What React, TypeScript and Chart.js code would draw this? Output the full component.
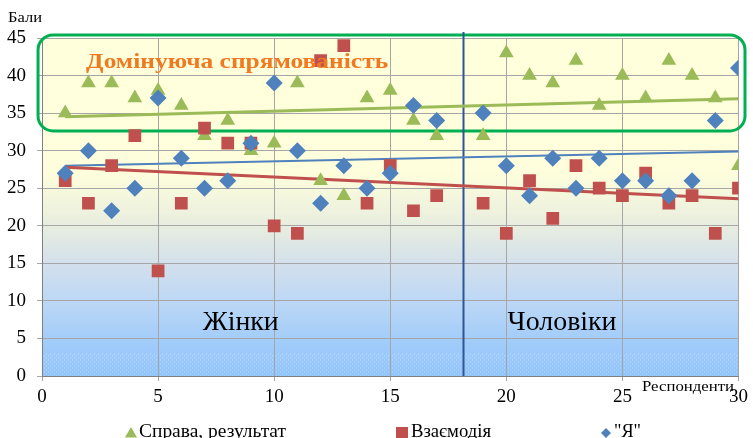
import React, { useEffect, useRef } from "react";
import { Chart, registerables } from "chart.js";

Chart.register(...registerables);

// ---- data ----
const respondents = [1, 2, 3, 4, 5, 6, 7, 8, 9, 10, 11, 12, 13, 14, 15, 16, 17, 19, 20, 21, 22, 23, 24, 25, 26, 27, 28, 29, 30];
const spravaValues = [35, 39, 39, 37, 38, 36, 32, 34, 30, 31, 39, 26, 24, 37, 38, 34, 32, 32, 43, 40, 39, 42, 36, 40, 37, 42, 40, 37, 28];
const vzaiemodiiaValues = [26, 23, 28, 32, 14, 23, 33, 31, 31, 20, 19, 42, 44, 23, 28, 22, 24, 23, 19, 26, 21, 28, 25, 24, 27, 23, 24, 19, 25];
const yaValues = [27, 30, 22, 25, 37, 29, 25, 26, 31, 39, 30, 23, 28, 25, 27, 36, 34, 35, 28, 24, 29, 25, 29, 26, 26, 24, 26, 34, 41];

// linear trend lines (end values)
const trendX = [1, 30];
const spravaTrend = [34.5, 36.9];
const vzaiemodiiaTrend = [27.8, 23.6];
const yaTrend = [28.0, 29.9];

const seriesLabels = ["Справа, результат", "Взаємодія", "\"Я\""];
const xAxisTitle = "Респонденти";
const yAxisTitle = "Бали";
const zoneLabel = "Домінуюча спрямованість";
const groupLabels = ["Жінки", "Чоловіки"];

const GREEN = "#9BBB59";
const RED = "#C0504D";
const BLUE = "#4F81BD";
const FONT = '"Liberation Serif", "DejaVu Serif", serif';

function trianglePath(ctx: CanvasRenderingContext2D, x: number, y: number, r: number) {
  ctx.beginPath();
  for (let k = 0; k < 3; k++) {
    const a = (k * 2 * Math.PI) / 3;
    const px = x + Math.sin(a) * r;
    const py = y - Math.cos(a) * r;
    if (k === 0) ctx.moveTo(px, py);
    else ctx.lineTo(px, py);
  }
  ctx.closePath();
}

// draw text stretched horizontally to a target width (the reference is slightly widened)
function fitText(ctx: CanvasRenderingContext2D, text: string, x: number, y: number, targetW: number, align: "left" | "center" | "right") {
  const w = ctx.measureText(text).width;
  const sx = w > 0 ? targetW / w : 1;
  ctx.save();
  ctx.textAlign = "left";
  let x0 = x;
  if (align === "center") x0 = x - targetW / 2;
  if (align === "right") x0 = x - targetW;
  ctx.translate(x0, y);
  ctx.scale(sx, 1);
  ctx.fillText(text, 0, 0);
  ctx.restore();
}

const backgroundPlugin = {
  id: "plotBackground",
  beforeDraw(chart: any) {
    const { ctx, chartArea } = chart;
    const { left, top, right, bottom } = chartArea;
    ctx.save();
    const g = ctx.createLinearGradient(0, top, 0, bottom);
    g.addColorStop(0, "#FFFFDC");
    g.addColorStop(0.4, "#FEFEDC");
    g.addColorStop(0.56, "#E7EDDF");
    g.addColorStop(0.67, "#D3E0EC");
    g.addColorStop(0.78, "#BCD7F5");
    g.addColorStop(0.89, "#A3CDF9");
    g.addColorStop(1, "#8FC3FB");
    ctx.fillStyle = g;
    ctx.fillRect(left, top, right - left, bottom - top);
    const yS = chart.scales.y;
    const dotTop = yS.getPixelForValue(3);
    ctx.fillStyle = "rgba(255,255,255,0.45)";
    let row = 0;
    for (let y = dotTop; y < bottom; y += 2, row++) {
      for (let x = left + (row % 2) * 2; x < right; x += 4) {
        ctx.fillRect(x, y, 1, 1);
      }
    }
    ctx.restore();
  },
};

const annotationPlugin = {
  id: "annotations",
  beforeDatasetsDraw(chart: any) {
    const { ctx } = chart;
    const xs = chart.scales.x;
    const ys = chart.scales.y;
    ctx.save();
    const l = xs.getPixelForValue(-0.17);
    const r = xs.getPixelForValue(30.28);
    const t = ys.getPixelForValue(45.4);
    const b = ys.getPixelForValue(32.63);
    const rad = 15;
    ctx.beginPath();
    ctx.moveTo(l + rad, t);
    ctx.lineTo(r - rad, t);
    ctx.arcTo(r, t, r, t + rad, rad);
    ctx.lineTo(r, b - rad);
    ctx.arcTo(r, b, r - rad, b, rad);
    ctx.lineTo(l + rad, b);
    ctx.arcTo(l, b, l, b - rad, rad);
    ctx.lineTo(l, t + rad);
    ctx.arcTo(l, t, l + rad, t, rad);
    ctx.closePath();
    ctx.strokeStyle = "#00B050";
    ctx.lineWidth = 3;
    ctx.stroke();
    const dx = Math.round(xs.getPixelForValue(18.15)) + 0.5;
    ctx.beginPath();
    ctx.moveTo(dx, ys.getPixelForValue(45.8));
    ctx.lineTo(dx, ys.getPixelForValue(0));
    ctx.strokeStyle = "#2F5597";
    ctx.lineWidth = 2;
    ctx.stroke();
    ctx.restore();
  },
  afterDatasetsDraw(chart: any) {
    const { ctx } = chart;
    const xs = chart.scales.x;
    const ys = chart.scales.y;
    ctx.save();
    ctx.textBaseline = "alphabetic";
    ctx.fillStyle = "#F07A22";
    ctx.font = `bold 22px ${FONT}`;
    fitText(ctx, zoneLabel, xs.getPixelForValue(1.9), ys.getPixelForValue(41.0), 302, "left");
    ctx.fillStyle = "#000";
    ctx.font = `28px ${FONT}`;
    fitText(ctx, groupLabels[0], xs.getPixelForValue(8.56), ys.getPixelForValue(6.1), 76, "center");
    fitText(ctx, groupLabels[1], xs.getPixelForValue(22.4), ys.getPixelForValue(6.1), 109, "center");
    ctx.restore();
  },
  afterDraw(chart: any) {
    const { ctx } = chart;
    ctx.save();
    ctx.fillStyle = "#000";
    ctx.textBaseline = "alphabetic";
    ctx.font = `15px ${FONT}`;
    fitText(ctx, yAxisTitle, 8, 22, 34, "left");
    ctx.font = `15px ${FONT}`;
    fitText(ctx, xAxisTitle, 734, 391, 92, "right");

    // legend
    const base = 437;
    ctx.font = `18px ${FONT}`;
    ctx.fillStyle = GREEN;
    trianglePath(ctx, 131, 434, 7);
    ctx.fill();
    ctx.fillStyle = "#000";
    fitText(ctx, seriesLabels[0], 139, base, 147, "left");

    ctx.fillStyle = RED;
    ctx.fillRect(396, 427, 12, 12);
    ctx.fillStyle = "#000";
    fitText(ctx, seriesLabels[1], 411, base, 80, "left");

    ctx.fillStyle = BLUE;
    ctx.beginPath();
    ctx.moveTo(606, 428);
    ctx.lineTo(611, 433);
    ctx.lineTo(606, 438);
    ctx.lineTo(601, 433);
    ctx.closePath();
    ctx.fill();
    ctx.fillStyle = "#000";
    fitText(ctx, seriesLabels[2], 614, base, 27, "left");
    ctx.restore();
  },
};

export default function App() {
  const canvasRef = useRef<HTMLCanvasElement | null>(null);

  useEffect(() => {
    document.body.style.margin = "0";
    const canvas = canvasRef.current;
    if (!canvas) return;
    Chart.defaults.font.family = FONT;

    const pts = (vals: number[]) => respondents.map((x, i) => ({ x, y: vals[i] }));
    const line = (vals: number[]) => trendX.map((x, i) => ({ x, y: vals[i] }));

    const chart = new Chart(canvas, {
      type: "scatter",
      data: {
        datasets: [
          {
            label: seriesLabels[0],
            data: pts(spravaValues),
            pointStyle: "triangle",
            pointRadius: 8.5,
            backgroundColor: GREEN,
            borderColor: GREEN,
            borderWidth: 0,
            order: 3,
          },
          {
            label: seriesLabels[1],
            data: pts(vzaiemodiiaValues),
            pointStyle: "rect",
            pointRadius: 9,
            backgroundColor: RED,
            borderColor: RED,
            borderWidth: 0,
            order: 2,
          },
          {
            label: seriesLabels[2],
            data: pts(yaValues),
            pointStyle: "rectRot",
            pointRadius: 8.5,
            backgroundColor: BLUE,
            borderColor: BLUE,
            borderWidth: 0,
            order: 1,
          },
          {
            type: "line",
            label: "trend1",
            data: line(spravaTrend),
            borderColor: GREEN,
            borderWidth: 3,
            pointRadius: 0,
            fill: false,
            order: 4,
          },
          {
            type: "line",
            label: "trend2",
            data: line(vzaiemodiiaTrend),
            borderColor: RED,
            borderWidth: 3,
            pointRadius: 0,
            fill: false,
            order: 4,
          },
          {
            type: "line",
            label: "trend3",
            data: line(yaTrend),
            borderColor: BLUE,
            borderWidth: 2,
            pointRadius: 0,
            fill: false,
            order: 4,
          },
        ] as any,
      },
      options: {
        responsive: false,
        animation: false,
        layout: { padding: { top: 38, right: 13, left: 0, bottom: 0 } },
        plugins: {
          legend: { display: false },
          tooltip: { enabled: false },
        },
        scales: {
          x: {
            type: "linear",
            min: 0,
            max: 30,
            ticks: { stepSize: 5, color: "#000", font: { size: 19, family: FONT }, padding: 5, maxRotation: 0 },
            grid: { color: "#A6A6A6", tickLength: 5 },
            border: { color: "#7F7F7F", width: 1 },
            afterFit: (s: any) => {
              s.height = 62;
            },
          },
          y: {
            type: "linear",
            min: 0,
            max: 45,
            ticks: { stepSize: 5, color: "#000", font: { size: 19, family: FONT }, padding: 11 },
            grid: { color: "#A6A6A6", tickLength: 5 },
            border: { color: "#7F7F7F", width: 1 },
            afterFit: (s: any) => {
              s.width = 42;
            },
          },
        },
      } as any,
      plugins: [backgroundPlugin, annotationPlugin],
    });

    return () => chart.destroy();
  }, []);

  return (
    <div style={{ width: 753, height: 438, position: "relative" }}>
      <canvas ref={canvasRef} width={753} height={438} style={{ display: "block" }} />
    </div>
  );
}
